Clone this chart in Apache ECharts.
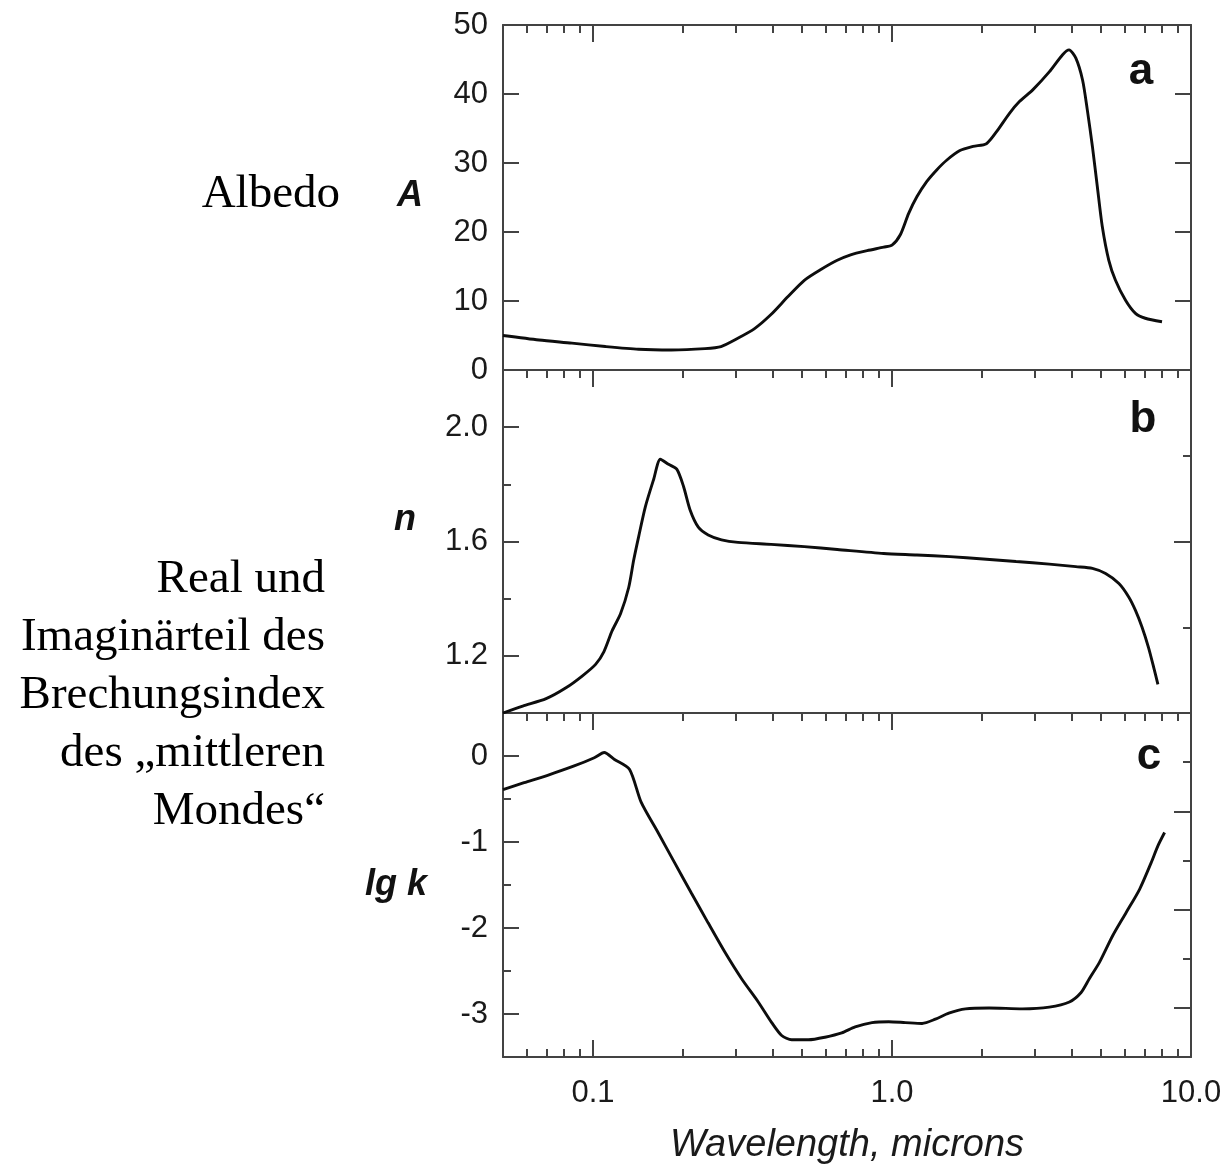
<!DOCTYPE html>
<html>
<head>
<meta charset="utf-8">
<title>Albedo und Brechungsindex des mittleren Mondes</title>
<script src="https://cdn.jsdelivr.net/npm/echarts@6/dist/echarts.min.js"></script>
<style>
  html, body { margin: 0; padding: 0; background: #ffffff; }
  #chart { width: 1225px; height: 1168px; }
</style>
</head>
<body>
<div id="chart"></div>
<script>
// ---- data: wavelength in microns ----
// (a) albedo A, %
const albedoWavelengths = [0.05, 0.066, 0.085, 0.11, 0.142, 0.183, 0.237, 0.268, 0.305, 0.347, 0.393, 0.448, 0.509, 0.58, 0.656, 0.727, 0.826, 0.938, 1.0, 1.066, 1.137, 1.211, 1.306, 1.411, 1.523, 1.687, 1.868, 2.069, 2.234, 2.471, 2.668, 2.956, 3.357, 3.72, 3.91, 4.12, 4.34, 4.5, 4.68, 4.86, 5.05, 5.31, 5.59, 6.04, 6.52, 7.03, 8.0];
const albedoValues = [5.0, 4.35, 3.9, 3.4, 3.0, 2.9, 3.1, 3.4, 4.6, 6.0, 8.0, 10.6, 13.0, 14.6, 15.9, 16.7, 17.3, 17.8, 18.1, 19.6, 22.7, 25.1, 27.3, 29.0, 30.4, 31.8, 32.4, 32.8, 34.5, 37.2, 38.9, 40.6, 43.2, 45.7, 46.4, 45.2, 42.0, 37.7, 32.4, 26.6, 20.8, 15.9, 13.0, 10.1, 8.2, 7.5, 7.0];

// (b) real part n of the refractive index
const indexWavelengths = [0.05, 0.0582, 0.0697, 0.0812, 0.0922, 0.102, 0.1088, 0.1159, 0.1236, 0.1317, 0.1368, 0.1422, 0.1497, 0.1595, 0.168, 0.1789, 0.1906, 0.2006, 0.2112, 0.225, 0.2428, 0.269, 0.3055, 0.394, 0.509, 0.656, 0.938, 1.211, 1.563, 2.017, 2.6, 3.357, 4.12, 4.68, 5.18, 5.74, 6.19, 6.52, 6.86, 7.21, 7.51, 7.75];
const indexValues = [1.0, 1.024, 1.05, 1.088, 1.13, 1.17, 1.215, 1.288, 1.347, 1.44, 1.535, 1.618, 1.722, 1.817, 1.888, 1.87, 1.853, 1.794, 1.71, 1.65, 1.623, 1.606, 1.597, 1.59, 1.582, 1.572, 1.558, 1.553, 1.547, 1.539, 1.53, 1.521, 1.512, 1.506, 1.488, 1.453, 1.406, 1.359, 1.3, 1.229, 1.158, 1.1];

// (c) imaginary part, lg k
const absorptionWavelengths = [0.05, 0.0588, 0.0705, 0.0865, 0.101, 0.109, 0.118, 0.1324, 0.145, 0.165, 0.1874, 0.213, 0.2426, 0.276, 0.314, 0.357, 0.396, 0.4275, 0.4618, 0.5255, 0.597, 0.679, 0.753, 0.857, 0.975, 1.108, 1.261, 1.397, 1.549, 1.762, 2.111, 2.73, 3.357, 3.92, 4.29, 4.57, 4.94, 5.47, 6.07, 6.73, 7.36, 7.75, 8.16];
const absorptionValues = [-0.39, -0.31, -0.224, -0.116, -0.02, 0.04, -0.04, -0.154, -0.54, -0.89, -1.24, -1.59, -1.94, -2.28, -2.59, -2.86, -3.1, -3.25, -3.3, -3.3, -3.27, -3.22, -3.15, -3.1, -3.09, -3.1, -3.11, -3.06, -2.99, -2.94, -2.93, -2.94, -2.92, -2.86, -2.75, -2.59, -2.4, -2.09, -1.82, -1.55, -1.24, -1.045, -0.89];

// ---- ticks ----
const decadeTicks = [0.1, 1, 10];
const decadeTickLabels = ['0.1', '1.0', '10.0'];
const minorWavelengthTicks = [0.06, 0.07, 0.08, 0.09, 0.2, 0.3, 0.4, 0.5, 0.6, 0.7, 0.8, 0.9, 2, 3, 4, 5, 6, 7, 8, 9];
const albedoTicks = [0, 10, 20, 30, 40, 50];
const indexLabelTicks = [1.2, 1.6, 2.0];
const indexMinorTicks = [1.4, 1.8];
const absorptionLabelTicks = [-3, -2, -1, 0];
const absorptionMinorTicks = [-2.5, -1.5, -0.5];

const X_MIN = 0.05, X_MAX = 10;
const LOG_MIN = Math.log10(X_MIN), LOG_MAX = Math.log10(X_MAX);

const FRAME = '#434343';
const TEXT = '#1a1a1a';
const SANS = '"Liberation Sans", Arial, Helvetica, sans-serif';
const SERIF = '"Liberation Serif", "Times New Roman", serif';

const grids = [
  { left: 503, top: 25, width: 688, height: 345 },
  { left: 503, top: 370, width: 688, height: 343 },
  { left: 503, top: 713, width: 688, height: 344 }
];

const xAxes = [];
const yAxes = [];
const addX = o => { xAxes.push(o); return xAxes.length - 1; };
const addY = o => { yAxes.push(o); return yAxes.length - 1; };

const lineStyle = { color: FRAME, width: 2 };
const tickLabelStyle = { fontFamily: SANS, fontSize: 31, color: TEXT };

// logarithmic wavelength axis carrying the curve of a panel
function wavelengthAxis(g) {
  return addX({ type: 'log', logBase: 10, gridIndex: g, min: X_MIN, max: X_MAX, show: false });
}

// tick rows along the top / bottom frame, placed in log10 space
function frameX(g, position, values, len, withLine, extra) {
  const o = {
    type: 'value', gridIndex: g, position, min: LOG_MIN, max: LOG_MAX,
    axisLine: { show: withLine, onZero: false, lineStyle },
    axisTick: { show: true, inside: true, length: len, customValues: values.map(Math.log10), lineStyle },
    axisLabel: { show: false },
    splitLine: { show: false }
  };
  if (extra) Object.assign(o, extra);
  return addX(o);
}

function frameY(g, position, min, max, values, len, withLine, extra) {
  const o = {
    type: 'value', gridIndex: g, position, min, max,
    axisLine: { show: withLine, onZero: false, lineStyle },
    axisTick: { show: true, inside: true, length: len, customValues: values, lineStyle },
    axisLabel: { show: false },
    splitLine: { show: false }
  };
  if (extra) Object.assign(o, extra);
  return addY(o);
}

function valueLabels(values, fmt) {
  return { axisLabel: Object.assign({ show: true, customValues: values, margin: 15, formatter: fmt }, tickLabelStyle) };
}

// frame + ticks shared by every panel
grids.forEach((_, g) => {
  frameX(g, 'top', [0.1, 1], 17, true);
  frameX(g, 'top', minorWavelengthTicks, 8, false);
});
// bottom frame with wavelength labels
frameX(2, 'bottom', [0.1, 1], 17, true, {
  axisLabel: Object.assign({
    show: true, margin: 21, customValues: decadeTicks.map(Math.log10),
    formatter: v => decadeTickLabels[decadeTicks.findIndex(d => Math.abs(Math.log10(d) - v) < 1e-6)]
  }, tickLabelStyle),
  name: 'Wavelength, microns', nameLocation: 'middle', nameGap: 69,
  nameTextStyle: { fontFamily: SANS, fontSize: 38, fontStyle: 'italic', color: TEXT }
});
frameX(2, 'bottom', minorWavelengthTicks, 8, false);

// panel a
const xA = wavelengthAxis(0);
const yA = frameY(0, 'left', 0, 50, albedoTicks, 16, true, valueLabels(albedoTicks, v => String(v)));
frameY(0, 'right', 0, 50, albedoTicks, 16, true);

// panel b
const xB = wavelengthAxis(1);
const yB = frameY(1, 'left', 1.0, 2.2, indexLabelTicks, 16, true, valueLabels(indexLabelTicks, v => v.toFixed(1)));
frameY(1, 'left', 1.0, 2.2, indexMinorTicks, 8, false);
frameY(1, 'right', 0, 4, [2], 17, true);
frameY(1, 'right', 0, 4, [1, 3], 8, false);

// panel c
const xC = wavelengthAxis(2);
const yC = frameY(2, 'left', -3.5, 0.5, absorptionLabelTicks, 16, true, valueLabels(absorptionLabelTicks, v => String(v)));
frameY(2, 'left', -3.5, 0.5, absorptionMinorTicks, 8, false);
frameY(2, 'right', 0, 7, [1, 3, 5], 17, true);
frameY(2, 'right', 0, 7, [2, 4, 6], 8, false);

const pairs = (xs, ys) => xs.map((x, i) => [x, ys[i]]);
const curve = (xi, yi, data) => ({
  type: 'line', xAxisIndex: xi, yAxisIndex: yi, data,
  symbol: 'none', showSymbol: false, smooth: 0.25,
  lineStyle: { color: '#0d0d0d', width: 2.9 }, silent: true
});

function label(text, x, y, size, opts) {
  return {
    type: 'text', x, y, silent: true,
    style: Object.assign({
      text, fill: '#111111', fontFamily: SANS, fontSize: size,
      textAlign: 'center', textVerticalAlign: 'middle', align: 'center', verticalAlign: 'middle'
    }, opts || {})
  };
}

const option = {
  backgroundColor: '#ffffff',
  animation: false,
  grid: grids,
  xAxis: xAxes,
  yAxis: yAxes,
  series: [
    curve(xA, yA, pairs(albedoWavelengths, albedoValues)),
    curve(xB, yB, pairs(indexWavelengths, indexValues)),
    curve(xC, yC, pairs(absorptionWavelengths, absorptionValues))
  ],
  graphic: [
    label('A', 410, 196, 36, { fontWeight: 'bold', fontStyle: 'italic' }),
    label('n', 405, 520, 36, { fontWeight: 'bold', fontStyle: 'italic' }),
    label('lg k', 396, 885, 36, { fontWeight: 'bold', fontStyle: 'italic' }),
    label('a', 1141, 72, 44, { fontWeight: 'bold' }),
    label('b', 1143, 420, 44, { fontWeight: 'bold' }),
    label('c', 1149, 757, 44, { fontWeight: 'bold' }),
    label('Albedo', 340, 195, 47, { fontFamily: SERIF, fill: '#000000', textAlign: 'right', align: 'right' }),
    label('Real und\nImaginärteil des\nBrechungsindex\ndes \u201Emittleren\nMondes\u201C', 325, 551, 47, {
      fontFamily: SERIF, fill: '#000000', textAlign: 'right', align: 'right',
      textVerticalAlign: 'top', verticalAlign: 'top', lineHeight: 58
    })
  ]
};

const chart = echarts.init(document.getElementById('chart'), null, { renderer: 'canvas' });
chart.setOption(option);
</script>
</body>
</html>
